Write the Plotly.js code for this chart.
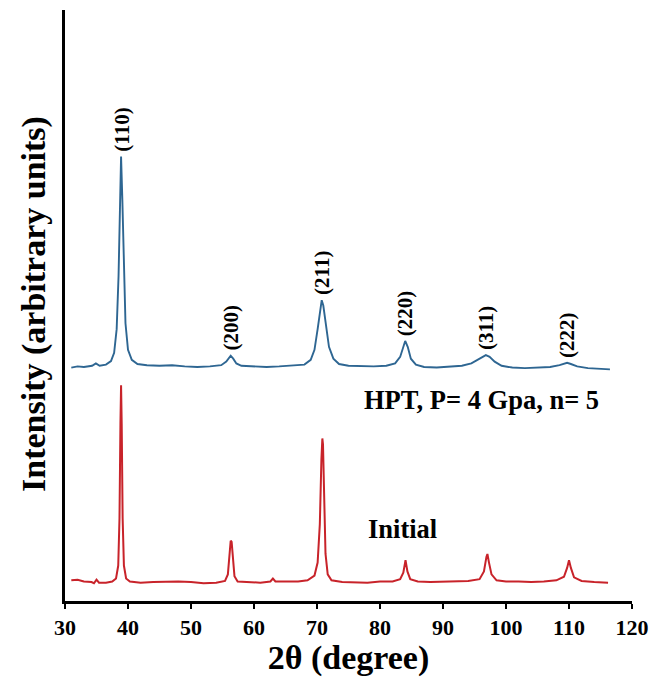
<!DOCTYPE html>
<html>
<head>
<meta charset="utf-8">
<script src="https://cdn.plot.ly/plotly-3.0.1.min.js"></script>
<style>
  html, body { margin: 0; padding: 0; background: #ffffff; }
  #chart { width: 653px; height: 677px; }
</style>
</head>
<body>
<div id="chart"></div>
<script>
// XRD patterns: initial sample and after HPT (P = 4 GPa, n = 5), stacked with an offset.
const twoThetaInitial = [
  31.0, 32.0, 33.0, 34.2, 34.6, 35.0, 35.4, 36.5, 37.5, 38.1, 38.45, 38.65, 38.8, 38.9, 39.0,
  39.15, 39.35, 39.7, 40.3, 42, 44, 46, 48, 50, 52, 54, 55.4, 55.85, 56.1, 56.3, 56.45, 56.65,
  56.9, 57.4, 59, 61, 62.6, 63.0, 63.4, 65, 67, 68.5, 69.6, 70.1, 70.45, 70.7, 70.85, 70.95,
  71.1, 71.35, 71.7, 72.3, 74, 76, 78, 80, 82, 83.2, 83.7, 84.05, 84.35, 84.8, 86, 88, 90, 92,
  94, 95.8, 96.5, 96.9, 97.05, 97.3, 97.7, 98.5, 100, 102, 104, 106, 108, 109.2, 109.7, 110.0,
  110.3, 110.8, 112, 114, 116.2
];
const intensityInitial = [
  3.5, 3.6, 3.3, 3.2, 3.0, 3.6, 3.1, 3.1, 3.3, 3.8, 6.0, 14, 30, 36.5, 30,
  14, 6, 3.8, 3.3, 3.1, 3.2, 3.3, 3.3, 3.2, 3.0, 3.1, 3.4, 4.5, 7.5, 10.2, 10.0, 7.0,
  4.2, 3.3, 3.2, 3.1, 3.3, 3.8, 3.3, 3.3, 3.3, 3.5, 4.3, 6.5, 13, 24, 27.5, 26.5,
  18, 8, 4.5, 3.5, 3.2, 3.2, 3.1, 3.3, 3.3, 3.7, 4.8, 6.9, 5.0, 3.7, 3.3, 3.2, 3.3, 3.3,
  3.4, 3.7, 5.0, 7.5, 7.95, 6.5, 4.5, 3.5, 3.3, 3.3, 3.2, 3.3, 3.5, 4.1, 5.6, 6.9,
  5.6, 4.0, 3.4, 3.2, 3.1
];

const twoThetaHPT = [
  31.0, 32.0, 33.0, 34.3, 34.9, 35.5, 36.5, 37.3, 37.8, 38.2, 38.5, 38.7, 38.9, 39.1, 39.3,
  39.6, 40.0, 40.6, 41.5, 43, 45, 47, 49, 51, 53, 54.8, 55.6, 56.0, 56.3, 56.7, 57.2, 58,
  60, 62, 64, 66, 68, 69.0, 69.6, 70.1, 70.5, 70.75, 71.0, 71.4, 71.9, 72.6, 73.5, 75, 77,
  79, 81, 82.4, 83.2, 83.7, 84.0, 84.4, 84.9, 85.7, 87, 89, 91, 93, 94.5, 95.6, 96.3, 96.8,
  97.4, 98.2, 99.3, 101, 103, 105, 107, 108.5, 109.3, 109.7, 110.3, 111.3, 113, 115, 116.5
];
const intensityHPT = [
  39.5, 39.7, 39.6, 39.8, 40.2, 39.8, 40.0, 40.6, 42, 46, 55, 66, 75.2, 68, 57,
  47, 42.5, 40.8, 40.1, 39.9, 39.8, 39.9, 39.7, 39.6, 39.7, 39.9, 40.5, 41.2, 41.5, 41.0, 40.2, 39.8,
  39.7, 39.6, 39.7, 39.8, 40.0, 40.8, 42.5, 46, 49.5, 50.9, 50, 46.5, 43, 41, 40.1, 39.8, 39.7,
  39.7, 39.8, 40.2, 41.3, 43.2, 44.0, 43, 41, 40, 39.6, 39.5, 39.6, 39.8, 40.2, 40.9, 41.4, 41.6,
  41.3, 40.5, 39.8, 39.5, 39.4, 39.5, 39.6, 39.9, 40.2, 40.3, 40.1, 39.7, 39.4, 39.3, 39.2
];

// Reflections indexed on the HPT pattern
const hklLabels = ['(110)', '(200)', '(211)', '(220)', '(311)', '(222)'];
const hklTwoTheta = [38.9, 56.3, 70.75, 84.0, 96.8, 109.7];
const hklPeakTop = [75.2, 41.5, 50.9, 44.0, 41.6, 40.3];

const xTicks = [30, 40, 50, 60, 70, 80, 90, 100, 110, 120];

const serif = 'Liberation Serif, Times New Roman, serif';

const traces = [
  {
    x: twoThetaInitial, y: intensityInitial, type: 'scatter', mode: 'lines',
    name: 'Initial', line: { color: '#c8232a', width: 2 }
  },
  {
    x: twoThetaHPT, y: intensityHPT, type: 'scatter', mode: 'lines',
    name: 'HPT', line: { color: '#2e6692', width: 1.9 }
  }
];

const annotations = hklLabels.map((t, i) => ({
  x: hklTwoTheta[i], y: hklPeakTop[i], xref: 'x', yref: 'y',
  text: t, showarrow: false, textangle: -90,
  xanchor: 'center', yanchor: 'bottom', yshift: 3,
  font: { family: serif, size: 21, color: '#000', weight: 'bold' }
}));

annotations.push(
  {
    x: 77.2, y: 34, xref: 'x', yref: 'y', text: 'HPT, P= 4 Gpa, n= 5',
    showarrow: false, xanchor: 'left', yanchor: 'middle',
    font: { family: serif, size: 26.5, color: '#000', weight: 'bold' }
  },
  {
    x: 77.7, y: 12.2, xref: 'x', yref: 'y', text: 'Initial',
    showarrow: false, xanchor: 'left', yanchor: 'middle',
    font: { family: serif, size: 26.5, color: '#000', weight: 'bold' }
  },
  {
    x: -0.056, y: 0.503, xref: 'paper', yref: 'paper', text: 'Intensity (arbitrary units)',
    showarrow: false, textangle: -90, xanchor: 'center', yanchor: 'middle',
    font: { family: serif, size: 34, color: '#000', weight: 'bold' }
  }
);

const layout = {
  width: 653, height: 677,
  margin: { l: 65, r: 21, t: 10, b: 76 },
  paper_bgcolor: '#ffffff', plot_bgcolor: '#ffffff',
  showlegend: false,
  xaxis: {
    range: [30, 120], tickvals: xTicks, ticktext: xTicks.map(String),
    showline: true, linecolor: '#000', linewidth: 3,
    ticks: 'outside', ticklen: 5, tickwidth: 2.5, tickcolor: '#000',
    showgrid: false, zeroline: false,
    tickfont: { family: serif, size: 22, color: '#000', weight: 'bold' },
    title: { text: '2θ (degree)', standoff: 10,
             font: { family: serif, size: 34, color: '#000', weight: 'bold' } }
  },
  yaxis: {
    range: [0, 100], showline: true, linecolor: '#000', linewidth: 3,
    ticks: '', showticklabels: false, showgrid: false, zeroline: false
  },
  annotations: annotations
};

Plotly.newPlot('chart', traces, layout, { staticPlot: true });
</script>
</body>
</html>
